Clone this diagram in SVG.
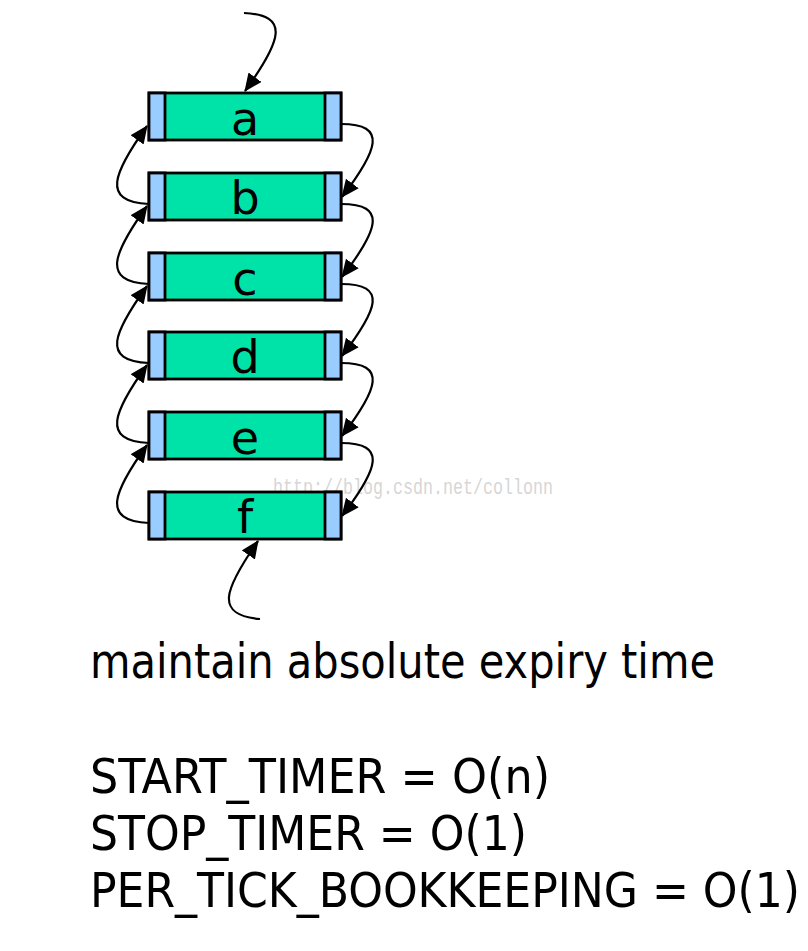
<svg xmlns="http://www.w3.org/2000/svg" width="808" height="951" viewBox="0 0 808 951">
<defs>
<marker id="ah" markerUnits="userSpaceOnUse" markerWidth="20" markerHeight="18" refX="17" refY="8" orient="auto">
<path d="M0,0 L18,8 L0,16 Z" fill="#000"/>
</marker>
<style>
.body{fill:#00E3A8;stroke:#000;stroke-width:2.8}
.cap{fill:#99CCFF;stroke:#000;stroke-width:2.8}
.lbl{font-family:"DejaVu Sans",sans-serif;font-size:46px;fill:#000;text-anchor:middle}
.txt{font-family:"DejaVu Sans Condensed","DejaVu Sans",sans-serif;font-size:48px;fill:#000}
.wm{font-family:"Liberation Mono",monospace;font-size:22px;fill:#d6d6d6}
.edge{fill:none;stroke:#000;stroke-width:2.2;marker-end:url(#ah)}
</style>
</defs>
<rect width="808" height="951" fill="#fff"/>
<text class="wm" x="273" y="494" textLength="280" lengthAdjust="spacingAndGlyphs">http://blog.csdn.net/collonn</text>
<g id="node-a"><rect class="body" x="149" y="93" width="192" height="47"/><rect class="cap" x="149" y="93" width="16" height="47"/><rect class="cap" x="325" y="93" width="16" height="47"/><text class="lbl" x="245" y="135">a</text></g>
<g id="node-b"><rect class="body" x="149" y="173" width="192" height="47"/><rect class="cap" x="149" y="173" width="16" height="47"/><rect class="cap" x="325" y="173" width="16" height="47"/><text class="lbl" x="245" y="214">b</text></g>
<g id="node-c"><rect class="body" x="149" y="253" width="192" height="47"/><rect class="cap" x="149" y="253" width="16" height="47"/><rect class="cap" x="325" y="253" width="16" height="47"/><text class="lbl" x="245" y="295">c</text></g>
<g id="node-d"><rect class="body" x="149" y="332" width="192" height="47"/><rect class="cap" x="149" y="332" width="16" height="47"/><rect class="cap" x="325" y="332" width="16" height="47"/><text class="lbl" x="245" y="373">d</text></g>
<g id="node-e"><rect class="body" x="149" y="412" width="192" height="47"/><rect class="cap" x="149" y="412" width="16" height="47"/><rect class="cap" x="325" y="412" width="16" height="47"/><text class="lbl" x="245" y="454">e</text></g>
<g id="node-f"><rect class="body" x="149" y="492" width="192" height="47"/><rect class="cap" x="149" y="492" width="16" height="47"/><rect class="cap" x="325" y="492" width="16" height="47"/><text class="lbl" x="245" y="533">f</text></g>
<g id="connectors">
<path class="edge" d="M244,13 C290,15 282,40 245,91"/>
<path class="edge" d="M260,619 C214,615 224,590 258,541"/>
<path class="edge" d="M341,124 C388,124 378,150 342,197"/>
<path class="edge" d="M341,204 C388,204 378,230 342,277"/>
<path class="edge" d="M341,284 C388,284 378,309 342,356"/>
<path class="edge" d="M341,363 C388,363 378,389 342,436"/>
<path class="edge" d="M341,443 C388,443 378,469 342,516"/>
<path class="edge" d="M149,204 C100,202 114,172 147,126"/>
<path class="edge" d="M149,284 C100,282 114,252 147,206"/>
<path class="edge" d="M149,363 C100,361 114,332 147,286"/>
<path class="edge" d="M149,443 C100,441 114,411 147,365"/>
<path class="edge" d="M149,523 C100,521 114,491 147,445"/>
</g>
<text class="txt" x="90" y="678" textLength="625" lengthAdjust="spacingAndGlyphs">maintain absolute expiry time</text>
<text class="txt" x="90" y="793" textLength="460" lengthAdjust="spacingAndGlyphs">START_TIMER = O(n)</text>
<text class="txt" x="90" y="850" textLength="437" lengthAdjust="spacingAndGlyphs">STOP_TIMER = O(1)</text>
<text class="txt" x="90" y="907" textLength="710" lengthAdjust="spacingAndGlyphs">PER_TICK_BOOKKEEPING = O(1)</text>
</svg>
